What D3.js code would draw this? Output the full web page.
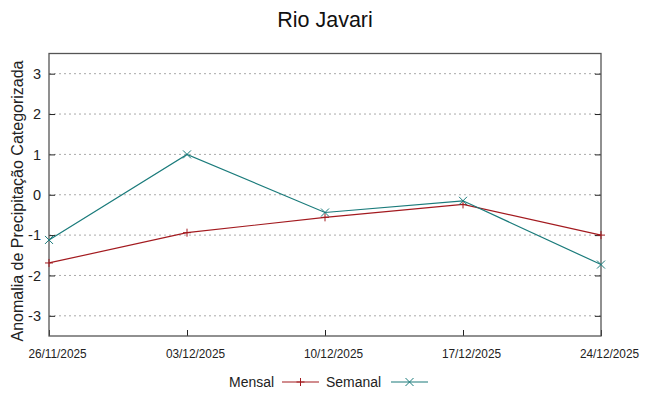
<!DOCTYPE html>
<html><head><meta charset="utf-8">
<script src="https://cdn.jsdelivr.net/npm/d3@7"></script>
<style>body{margin:0;background:#fff;} text{font-family:"Liberation Sans",Arial,sans-serif;}</style>
</head><body>
<script>
const dates = ["26/11/2025","03/12/2025","10/12/2025","17/12/2025","24/12/2025"];
const mensal = [-1.69, -0.94, -0.56, -0.24, -1.0];
const semanal = [-1.12, 1.0, -0.44, -0.15, -1.73];
const yTicks = [-3,-2,-1,0,1,2,3];
const title = "Rio Javari";
const yLabel = "Anomalia de Precipitação Categorizada";

const W=649,H=396;
const svg=d3.select("body").append("svg").attr("width",W).attr("height",H);
const L=49,R=601,T=53.5,B=336;
const x=d3.scalePoint().domain(dates).range([L,R]);
const y=d3.scaleLinear().domain([-3.5,3.5]).range([B,T]);

// grid
svg.append("g").selectAll("line").data(yTicks).join("line")
 .attr("x1",L).attr("x2",R).attr("y1",d=>y(d)).attr("y2",d=>y(d))
 .attr("stroke","#aaa").attr("stroke-width",1).attr("stroke-dasharray","2,3");

// axes
const ya=svg.append("g").attr("transform",`translate(${L},0)`)
 .call(d3.axisLeft(y).tickValues(yTicks).tickFormat(d=>String(d)).tickSizeInner(-6).tickSizeOuter(0).tickPadding(8));
ya.select(".domain").remove();
ya.selectAll("line").attr("stroke","#222");
ya.selectAll("text").attr("font-size",14.5).attr("fill","#222").style("font-family","'Liberation Sans',Arial");
const yr=svg.append("g").attr("transform",`translate(${R},0)`)
 .call(d3.axisRight(y).tickValues(yTicks).tickSizeInner(-6).tickSizeOuter(0).tickFormat(""));
yr.select(".domain").remove(); yr.selectAll("line").attr("stroke","#222");
const xa=svg.append("g").attr("transform",`translate(0,${B})`)
 .call(d3.axisBottom(x).tickSizeInner(-6).tickSizeOuter(0).tickPadding(13));
xa.select(".domain").remove(); xa.selectAll("line").attr("stroke","#222");
xa.selectAll("text").attr("font-size",13).attr("fill","#222").attr("transform","translate(8,0) scale(0.91,1)")
 .style("font-family","'Liberation Sans',Arial");

// border
svg.append("rect").attr("x",L).attr("y",T).attr("width",R-L).attr("height",B-T)
 .attr("fill","none").attr("stroke","#555").attr("stroke-width",1.3);

const series=[{name:"Mensal",vals:mensal,color:"#a31a1f",mark:"plus"},
 {name:"Semanal",vals:semanal,color:"#1a7b7b",mark:"x"}];
const line=d3.line().x((d,i)=>x(dates[i])).y(d=>y(d));
function marker(g,cx,cy,type,color){
  const s=4;
  if(type==="plus"){
    g.append("line").attr("x1",cx-s).attr("x2",cx+s).attr("y1",cy).attr("y2",cy).attr("stroke",color);
    g.append("line").attr("x1",cx).attr("x2",cx).attr("y1",cy-s).attr("y2",cy+s).attr("stroke",color);
  } else {
    g.append("line").attr("x1",cx-s).attr("x2",cx+s).attr("y1",cy-s).attr("y2",cy+s).attr("stroke",color);
    g.append("line").attr("x1",cx-s).attr("x2",cx+s).attr("y1",cy+s).attr("y2",cy-s).attr("stroke",color);
  }
}
series.forEach(s=>{
  svg.append("path").datum(s.vals).attr("d",line).attr("fill","none").attr("stroke",s.color).attr("stroke-width",1.2);
  const g=svg.append("g");
  s.vals.forEach((v,i)=>marker(g,x(dates[i]),y(v),s.mark,s.color));
});

svg.append("text").attr("x",325).attr("y",27).attr("text-anchor","middle").attr("font-size",21.5).attr("fill","#111").text(title);
svg.append("text").attr("transform",`translate(23,201) rotate(-90)`).attr("text-anchor","middle")
 .attr("font-size",16).attr("fill","#222").text(yLabel);

// legend
const lg=svg.append("g");
lg.append("text").attr("x",0).attr("y",387).attr("text-anchor","end").attr("font-size",15.5).attr("fill","#222")
 .attr("transform","translate(274,0) scale(0.9,1)").text("Mensal");
lg.append("line").attr("x1",282).attr("x2",319).attr("y1",382).attr("y2",382).attr("stroke",series[0].color).attr("stroke-width",1.2);
marker(lg,300.5,382,"plus",series[0].color);
lg.append("text").attr("x",0).attr("y",387).attr("text-anchor","end").attr("font-size",15.5).attr("fill","#222")
 .attr("transform","translate(381,0) scale(0.9,1)").text("Semanal");
lg.append("line").attr("x1",391).attr("x2",428).attr("y1",382).attr("y2",382).attr("stroke",series[1].color).attr("stroke-width",1.2);
marker(lg,409.5,382,"x",series[1].color);
</script>
</body></html>
